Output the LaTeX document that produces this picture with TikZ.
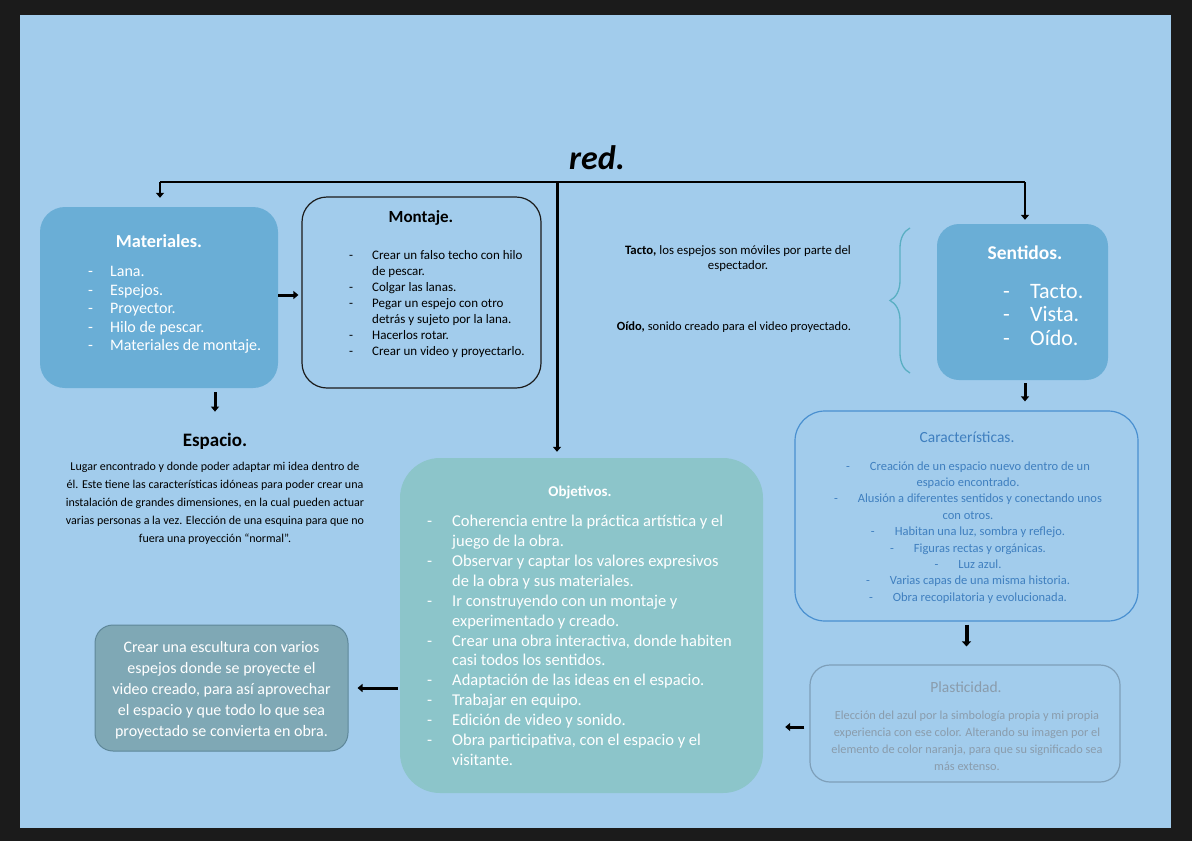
\documentclass[tikz,border=0pt]{standalone}
\usepackage{fontspec}
\setmainfont{Carlito}
\usepackage{tikz}
\usetikzlibrary{arrows.meta,decorations.pathreplacing}

\definecolor{frame}{HTML}{1B1B1B}
\definecolor{bgblue}{HTML}{A2CCEC}
\definecolor{matblue}{HTML}{6AAED6}
\definecolor{objteal}{HTML}{8CC5CA}
\definecolor{escgray}{HTML}{7FA8B5}
\definecolor{escline}{HTML}{5E8799}
\definecolor{carline}{HTML}{4A90D0}
\definecolor{cartext}{HTML}{3F7FBF}
\definecolor{plaline}{HTML}{7E9FB9}
\definecolor{platext}{HTML}{8A9CAC}
\definecolor{braceblue}{HTML}{5AAFC3}

\begin{document}
\begin{tikzpicture}[x=1pt,y=-1pt,
		txt/.style={inner sep=0pt},
		arr/.style={line width=3pt,-{Triangle[length=5pt,width=8pt]}},
		bar/.style={line width=2pt}]
		\useasboundingbox (0,0) rectangle (1192,841);
		\fill[frame] (0,0) rectangle (1192,841);
		\fill[bgblue] (20,15) rectangle (1171,828);
		% title and top bar
		\node[txt,font=\fontsize{34}{40}\selectfont\bfseries\itshape] (red) at (597,158) {red.};
		\coordinate (barL) at (160,182);
		\coordinate (barM) at (557,182);
		\coordinate (barR) at (1025,182);
		\draw[bar] (barL) -- (barR);
		% boxes
		\node[fill=matblue,rounded corners=25pt,minimum width=238pt,minimum height=181pt] (mat) at (159,297.5) {};
		\node[draw=frame,line width=1.2pt,rounded corners=25pt,minimum width=239pt,minimum height=191pt] (mon) at (421.5,292.5) {};
		\node[fill=matblue,rounded corners=22pt,minimum width=171pt,minimum height=156pt] (sen) at (1022.5,302) {};
		\node[draw=carline,line width=1.2pt,rounded corners=30pt,minimum width=343pt,minimum height=210pt] (car) at (966.5,516) {};
		\node[draw=plaline,line width=1.2pt,rounded corners=20pt,minimum width=310pt,minimum height=117pt] (pla) at (965,723.5) {};
		\node[fill=objteal,rounded corners=40pt,minimum width=363pt,minimum height=335pt] (obj) at (581.5,625.5) {};
		\node[draw=escline,fill=escgray,line width=1pt,rounded corners=18pt,minimum width=253pt,minimum height=126pt] (esc) at (221.5,688) {};
		% Materiales
		\node[txt,white,font=\fontsize{18.3}{22}\selectfont\bfseries] (mattit) at (159,241) {Materiales.};
		\node[txt,white,anchor=north west,font=\fontsize{16}{18.5}\selectfont] (matlist) at (88,263.5) {\begin{tabular}{@{}p{22pt}@{}l@{}}
			- & Lana.\\
			- & Espejos.\\
			- & Proyector.\\
			- & Hilo de pescar.\\
			- & Materiales de montaje.
		\end{tabular}};
		% Montaje
		\node[txt,font=\fontsize{17}{20}\selectfont\bfseries] (montit) at (421,218) {Montaje.};
		\node[txt,anchor=north west,font=\fontsize{13}{16}\selectfont] (monlist) at (349,248.5) {\begin{tabular}{@{}p{23pt}@{}l@{}}
			- & Crear un falso techo con hilo\\
			  & de pescar.\\
			- & Colgar las lanas.\\
			- & Pegar un espejo con otro\\
			  & detrás y sujeto por la lana.\\
			- & Hacerlos rotar.\\
			- & Crear un video y proyectarlo.
		\end{tabular}};
		% Espacio
		\node[txt,font=\fontsize{19}{23}\selectfont\bfseries] (esp) at (215,441) {Espacio.};
		\node[txt,anchor=north,font=\fontsize{12}{18}\selectfont] (esptxt) at (215,458) {\begin{tabular}{@{}c@{}}
			Lugar encontrado y donde poder adaptar mi idea dentro de\\
			él. Este tiene las características idóneas para poder crear una\\
			instalación de grandes dimensiones, en la cual pueden actuar\\
			varias personas a la vez. Elección de una esquina para que no\\
			fuera una proyección “normal”.
		\end{tabular}};
		% Sentidos
		\node[txt,anchor=north,font=\fontsize{12.8}{15}\selectfont] (tacto) at (738,244) {\begin{tabular}{@{}c@{}}
			\textbf{Tacto,} los espejos son móviles por parte del\\
			espectador.
		\end{tabular}};
		\node[txt,anchor=north,font=\fontsize{12.5}{15}\selectfont] (oido) at (734,321.5) {\textbf{Oído,} sonido creado para el video proyectado.};
		\draw[braceblue,line width=1.3pt,decorate,decoration={brace,amplitude=20pt,aspect=0.5}] (910,373) -- (910,228);
		\node[txt,white,font=\fontsize{19.5}{23}\selectfont\bfseries] (sentit) at (1025,253) {Sentidos.};
		\node[txt,white,anchor=north west,font=\fontsize{22}{23.5}\selectfont] (senlist) at (1003,281.5) {\begin{tabular}{@{}p{27pt}@{}l@{}}
			- & Tacto.\\
			- & Vista.\\
			- & Oído.
		\end{tabular}};
		% Caracteristicas
		\node[txt,cartext,font=\fontsize{15.5}{19}\selectfont] (cartit) at (967,437) {Características.};
		\node[txt,cartext,anchor=north,font=\fontsize{12.5}{16.4}\selectfont] (cartxt) at (968,458.5) {\begin{tabular}{@{}c@{}}
			-\hspace{20pt}Creación de un espacio nuevo dentro de un\\
			espacio encontrado.\\
			-\hspace{20pt}Alusión a diferentes sentidos y conectando unos\\
			con otros.\\
			-\hspace{20pt}Habitan una luz, sombra y reflejo.\\
			-\hspace{20pt}Figuras rectas y orgánicas.\\
			-\hspace{20pt}Luz azul.\\
			-\hspace{20pt}Varias capas de una misma historia.\\
			-\hspace{20pt}Obra recopilatoria y evolucionada.
		\end{tabular}};
		% Plasticidad
		\node[txt,platext,font=\fontsize{15.5}{19}\selectfont] (platit) at (966,687) {Plasticidad.};
		\node[txt,platext,anchor=north,font=\fontsize{12.3}{17}\selectfont] (platxt) at (967,707.5) {\begin{tabular}{@{}c@{}}
			Elección del azul por la simbología propia y mi propia\\
			experiencia con ese color. Alterando su imagen por el\\
			elemento de color naranja, para que su significado sea\\
			más extenso.
		\end{tabular}};
		% Objetivos
		\node[txt,white,font=\fontsize{15}{17}\selectfont\bfseries] (objtit) at (580,492) {Objetivos.};
		\node[txt,white,anchor=north west,font=\fontsize{16.5}{19.9}\selectfont] (objlist) at (427,512.5) {\begin{tabular}{@{}p{25pt}@{}l@{}}
			- & Coherencia entre la práctica artística y el\\
			  & juego de la obra.\\
			- & Observar y captar los valores expresivos\\
			  & de la obra y sus materiales.\\
			- & Ir construyendo con un montaje y\\
			  & experimentado y creado.\\
			- & Crear una obra interactiva, donde habiten\\
			  & casi todos los sentidos.\\
			- & Adaptación de las ideas en el espacio.\\
			- & Trabajar en equipo.\\
			- & Edición de video y sonido.\\
			- & Obra participativa, con el espacio y el\\
			  & visitante.
		\end{tabular}};
		% escultura
		\node[txt,white,anchor=north,font=\fontsize{16}{21.2}\selectfont] (esctxt) at (221.5,637) {\begin{tabular}{@{}c@{}}
			Crear una escultura con varios\\
			espejos donde se proyecte el\\
			video creado, para así aprovechar\\
			el espacio y que todo lo que sea\\
			proyectado se convierta en obra.
		\end{tabular}};
		% arrows
		\draw[arr,line width=2.2pt,shorten >=9pt] (barL) -- (barL |- mat.north);
		\draw[arr,line width=2.2pt,shorten >=4pt] (barR) -- (barR |- sen.north);
		\draw[arr,shorten >=6pt] (barM) -- (barM |- obj.north);
		\draw[arr,shorten >=3pt] (mat.east |- 0,295) -- (mon.west |- 0,295);
		\draw[arr,shorten <=4pt,shorten >=21pt] (esp.north |- mat.south) -- (esp.north);
		\draw[arr,shorten <=3pt,shorten >=9pt] (barR |- sen.south) -- (barR |- car.north);
		\draw[arr,line width=4pt,-{Triangle[length=5pt,width=9pt]},shorten <=3pt,shorten >=18pt] (car.south) -- (car.south |- pla.north);
		\draw[arr,shorten <=5pt,shorten >=22pt] (pla.west |- 0,727) -- (obj.east |- 0,727);
		\draw[arr,shorten <=2pt,shorten >=9pt] (obj.west |- esc.east) -- (esc.east);
\end{tikzpicture}
\end{document}
